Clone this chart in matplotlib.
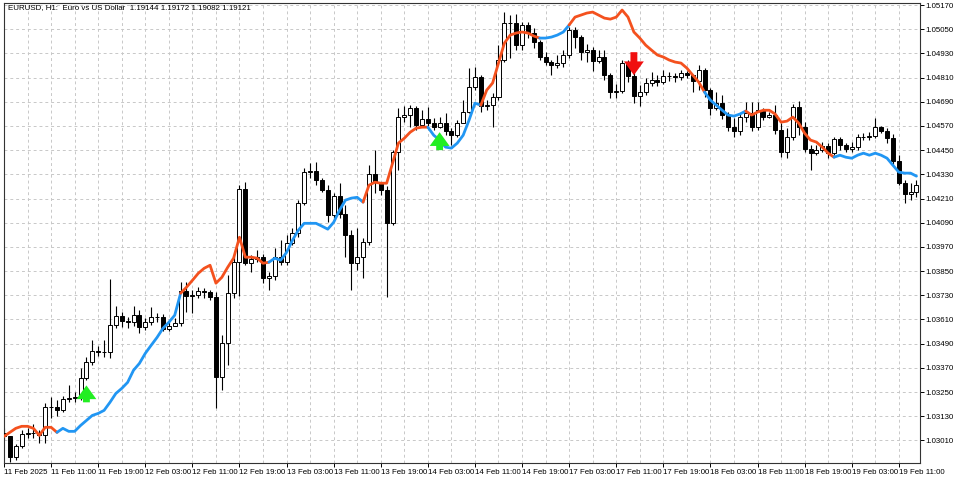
import matplotlib
matplotlib.use("Agg")
import matplotlib.pyplot as plt
import numpy as np

close = [1.03030,1.02926,1.02980,1.03040,1.03045,1.03045,1.03035,1.03174,1.03174,1.03159,
1.03214,1.03219,1.03223,1.03318,1.03397,1.03452,1.03447,1.03447,1.03581,1.03626,
1.03601,1.03596,1.03631,1.03571,1.03596,1.03621,1.03621,1.03561,1.03576,1.03591,
1.03750,1.03725,1.03730,1.03750,1.03745,1.03720,1.03323,1.03492,1.03740,1.03894,
1.04256,1.03889,1.03909,1.03919,1.03814,1.03824,1.03919,1.03894,1.03988,1.04038,
1.04187,1.04341,1.04346,1.04301,1.04251,1.04127,1.04221,1.04132,1.04028,1.03889,
1.03919,1.03993,1.04331,1.04291,1.04251,1.04087,1.04440,1.04614,1.04624,1.04658,
1.04574,1.04604,1.04584,1.04564,1.04584,1.04544,1.04524,1.04584,1.04639,1.04763,
1.04812,1.04668,1.04673,1.04713,1.04897,1.05080,1.05080,1.04971,1.05071,1.05031,
1.04986,1.04912,1.04887,1.04872,1.04882,1.04922,1.05046,1.05011,1.04936,1.04946,
1.04892,1.04912,1.04822,1.04738,1.04743,1.04882,1.04817,1.04718,1.04738,1.04783,
1.04797,1.04788,1.04817,1.04817,1.04812,1.04832,1.04822,1.04792,1.04847,1.04748,
1.04658,1.04683,1.04624,1.04564,1.04544,1.04614,1.04634,1.04564,1.04648,1.04614,
1.04624,1.04549,1.04440,1.04514,1.04663,1.04564,1.04455,1.04435,1.04450,1.04470,
1.04435,1.04504,1.04475,1.04455,1.04465,1.04514,1.04514,1.04519,1.04564,1.04544,
1.04509,1.04395,1.04286,1.04231,1.04241,1.04276]
first_open = 1.03045

high = [1.03070,1.03030,1.02990,1.03060,1.03070,1.03089,1.03060,1.03194,1.03223,1.03209,
1.03228,1.03283,1.03248,1.03367,1.03422,1.03506,1.03477,1.03506,1.03809,1.03675,
1.03646,1.03621,1.03675,1.03655,1.03616,1.03670,1.03641,1.03636,1.03596,1.03616,
1.03795,1.03795,1.03755,1.03770,1.03765,1.03755,1.03745,1.03531,1.03829,1.03919,
1.04276,1.04291,1.03929,1.03953,1.03934,1.03844,1.03963,1.04003,1.04028,1.04063,
1.04202,1.04361,1.04385,1.04390,1.04311,1.04276,1.04236,1.04286,1.04177,1.04053,
1.04063,1.04013,1.04375,1.04450,1.04291,1.04271,1.04450,1.04658,1.04668,1.04673,
1.04668,1.04648,1.04663,1.04609,1.04614,1.04634,1.04559,1.04599,1.04698,1.04857,
1.04862,1.04822,1.04698,1.04733,1.04971,1.05135,1.05120,1.05125,1.05085,1.05085,
1.05056,1.04996,1.04936,1.04897,1.04922,1.04946,1.05061,1.05061,1.05021,1.04976,
1.04961,1.04946,1.04946,1.04832,1.04778,1.04897,1.04897,1.04847,1.04773,1.04807,
1.04837,1.04822,1.04847,1.04837,1.04832,1.04847,1.04842,1.04822,1.04872,1.04857,
1.04758,1.04738,1.04723,1.04639,1.04609,1.04634,1.04688,1.04688,1.04688,1.04658,
1.04639,1.04673,1.04584,1.04559,1.04678,1.04693,1.04589,1.04475,1.04475,1.04490,
1.04485,1.04514,1.04514,1.04485,1.04490,1.04529,1.04534,1.04539,1.04609,1.04569,
1.04559,1.04529,1.04425,1.04301,1.04286,1.04301]

low = [1.03010,1.02901,1.02911,1.02970,1.03020,1.03020,1.02995,1.02995,1.03119,1.03129,
1.03149,1.03199,1.03199,1.03209,1.03308,1.03382,1.03427,1.03422,1.03417,1.03566,
1.03571,1.03566,1.03576,1.03541,1.03556,1.03581,1.03596,1.03551,1.03551,1.03576,
1.03576,1.03646,1.03641,1.03715,1.03715,1.03705,1.03169,1.03258,1.03382,1.03715,
1.03725,1.03879,1.03844,1.03894,1.03790,1.03755,1.03804,1.03879,1.03879,1.03978,
1.04018,1.04177,1.04311,1.04276,1.04241,1.04092,1.04112,1.04112,1.03919,1.03755,
1.03854,1.03814,1.03978,1.04236,1.04226,1.03720,1.04077,1.04351,1.04589,1.04564,
1.04549,1.04574,1.04569,1.04549,1.04559,1.04524,1.04475,1.04514,1.04584,1.04634,
1.04748,1.04639,1.04648,1.04564,1.04698,1.04887,1.04907,1.04946,1.04946,1.05006,
1.04956,1.04897,1.04872,1.04822,1.04857,1.04862,1.04907,1.04956,1.04897,1.04887,
1.04842,1.04882,1.04797,1.04708,1.04708,1.04733,1.04788,1.04683,1.04668,1.04723,
1.04768,1.04768,1.04778,1.04792,1.04788,1.04797,1.04807,1.04738,1.04748,1.04713,
1.04624,1.04648,1.04604,1.04544,1.04514,1.04524,1.04589,1.04544,1.04549,1.04599,
1.04609,1.04529,1.04415,1.04410,1.04500,1.04524,1.04440,1.04351,1.04425,1.04440,
1.04410,1.04425,1.04450,1.04440,1.04440,1.04450,1.04500,1.04500,1.04509,1.04534,
1.04485,1.04375,1.04276,1.04187,1.04202,1.04216]

trend_line = [1.03030,1.03050,1.03070,1.03080,1.03080,1.03070,1.03035,1.03075,1.03075,1.03050,
1.03070,1.03055,1.03055,1.03084,1.03109,1.03134,1.03144,1.03159,1.03199,1.03243,
1.03268,1.03298,1.03358,1.03392,1.03442,1.03482,1.03521,1.03566,1.03596,1.03631,
1.03740,1.03770,1.03804,1.03839,1.03864,1.03879,1.03790,1.03819,1.03869,1.03914,
1.04018,1.03919,1.03919,1.03914,1.03889,1.03894,1.03914,1.03904,1.03943,1.04003,
1.04053,1.04087,1.04087,1.04087,1.04073,1.04058,1.04092,1.04152,1.04202,1.04212,
1.04216,1.04192,1.04276,1.04291,1.04286,1.04286,1.04385,1.04485,1.04509,1.04539,
1.04559,1.04564,1.04564,1.04524,1.04500,1.04465,1.04460,1.04485,1.04524,1.04599,
1.04683,1.04673,1.04748,1.04783,1.04882,1.04981,1.05021,1.05031,1.05036,1.05031,
1.05016,1.05006,1.05006,1.05011,1.05021,1.05036,1.05071,1.05110,1.05120,1.05130,
1.05135,1.05120,1.05105,1.05100,1.05110,1.05145,1.05110,1.05036,1.05006,1.04971,
1.04946,1.04922,1.04912,1.04897,1.04887,1.04882,1.04857,1.04822,1.04788,1.04738,
1.04698,1.04673,1.04648,1.04624,1.04619,1.04629,1.04644,1.04624,1.04639,1.04648,
1.04648,1.04629,1.04589,1.04594,1.04614,1.04584,1.04534,1.04500,1.04490,1.04465,
1.04435,1.04415,1.04425,1.04415,1.04410,1.04425,1.04435,1.04425,1.04435,1.04425,
1.04410,1.04375,1.04341,1.04336,1.04336,1.04321]

# segment start bars, alternating down-trend (orange) / up-trend (blue), starting orange
trend_starts = [0, 9, 30, 45, 61, 72, 81, 91, 96, 119, 126, 141]

buy_arrows = [(14, 1.03199, 1.03283), (74, 1.04450, 1.04539)]
sell_arrows = [(107, 1.04936, 1.04822)]

xtick_labels = ["11 Feb 2025","11 Feb 11:00","11 Feb 19:00","12 Feb 03:00","12 Feb 11:00",
"12 Feb 19:00","13 Feb 03:00","13 Feb 11:00","13 Feb 19:00","14 Feb 03:00","14 Feb 11:00",
"14 Feb 19:00","17 Feb 03:00","17 Feb 11:00","17 Feb 19:00","18 Feb 03:00","18 Feb 11:00",
"18 Feb 19:00","19 Feb 03:00","19 Feb 11:00"]
ytick_values = [1.03010,1.03130,1.03250,1.03370,1.03490,1.03610,1.03730,1.03850,1.03970,
1.04090,1.04210,1.04330,1.04450,1.04570,1.04690,1.04810,1.04930,1.05050,1.05170]
title = "EURUSD, H1:  Euro vs US Dollar  1.19144 1.19172 1.19082 1.19121"

ORANGE = "#F4511E"
BLUE = "#2196F3"
FONT = "Liberation Sans"
FS = 5.7

fig = plt.figure(figsize=(9.6, 4.8), dpi=100)
ax = fig.add_axes([4/960, 17/480, 916/960, 460/480])
n = len(close)
x = np.arange(n)
opens = [first_open] + close[:-1]

ax.vlines(x, low, high, color="black", lw=0.8, zorder=2)
for i in range(n):
    o, c = opens[i], close[i]
    bull = c >= o
    h = abs(c - o)
    if h < 0.00002:
        h = 0.00002
    ax.bar(i, h, bottom=min(o, c), width=0.68, facecolor="white" if bull else "black",
           edgecolor="black", lw=0.7, zorder=3)

bounds = trend_starts + [n - 1]
for k in range(len(trend_starts)):
    s, e = bounds[k], bounds[k + 1]
    seg = slice(s, e + 1)
    ax.plot(x[seg], trend_line[s:e + 1], color=ORANGE if k % 2 == 0 else BLUE,
            lw=2.0, zorder=4, solid_capstyle="round")

astyle = "simple,head_width=1.3,head_length=0.9,tail_width=0.45"
for (i, tail, tip) in buy_arrows:
    ax.annotate("", xy=(i, tip), xytext=(i, tail),
                arrowprops=dict(arrowstyle=astyle, mutation_scale=11, color="#22EE22", lw=0,
                                shrinkA=0, shrinkB=0), zorder=5)
for (i, tail, tip) in sell_arrows:
    ax.annotate("", xy=(i, tip), xytext=(i, tail),
                arrowprops=dict(arrowstyle=astyle, mutation_scale=11, color="#F01010", lw=0,
                                shrinkA=0, shrinkB=0), zorder=5)

ax.set_xlim(0.15, 155.6)
ax.set_ylim(1.02898, 1.05180)
ax.yaxis.tick_right()
ax.set_yticks(ytick_values)
ax.set_yticklabels([f"{v:.5f}" for v in ytick_values], fontsize=FS, family=FONT)
ax.set_xticks(np.arange(0, 8 * len(xtick_labels), 8))
ax.set_xticklabels(xtick_labels, fontsize=FS, ha="left", family=FONT)
ax.set_xticks(np.arange(4, 156, 8), minor=True)
ax.tick_params(axis="both", length=3, width=0.7, pad=1.0, colors="black")
ax.tick_params(axis="x", which="minor", length=0)
ax.grid(True, which="both", color="#c8c8c8", ls=(0, (3, 3)), lw=0.7)
ax.set_axisbelow(True)
for sp in ax.spines.values():
    sp.set_color("#333333")
    sp.set_linewidth(0.8)
ax.text(0.004, 0.997, title, transform=ax.transAxes, fontsize=FS, va="top", ha="left",
        family=FONT)

fig.savefig("out.png", dpi=100)
